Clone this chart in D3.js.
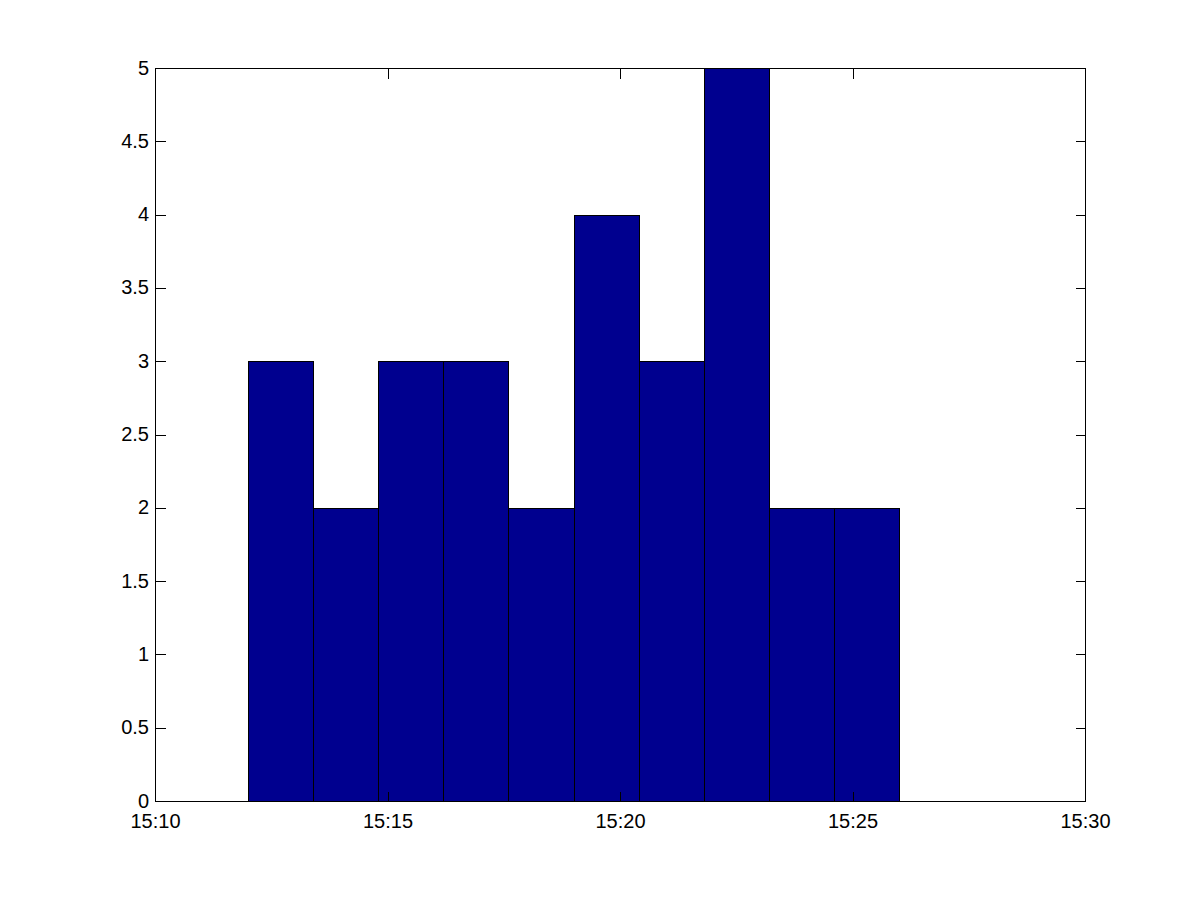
<!DOCTYPE html>
<html>
<head>
<meta charset="utf-8">
<script src="https://cdn.jsdelivr.net/npm/d3@7"></script>
<style>
  html, body { margin: 0; padding: 0; background: #fff; }
  svg text { font-family: "Liberation Sans", Arial, Helvetica, sans-serif; font-size: 20px; fill: #000; }
  svg line, svg rect { shape-rendering: crispEdges; }
</style>
</head>
<body>
<svg id="chart" width="1200" height="900"></svg>
<script>
// Histogram bin edges (time of day) and counts
const binEdges = ["15:12:00","15:13:24","15:14:48","15:16:12","15:17:36","15:19:00","15:20:24","15:21:48","15:23:12","15:24:36","15:26:00"];
const counts = [3, 2, 3, 3, 2, 4, 3, 5, 2, 2];
const xTickLabels = ["15:10", "15:15", "15:20", "15:25", "15:30"];
const yTicks = [0, 0.5, 1, 1.5, 2, 2.5, 3, 3.5, 4, 4.5, 5];

(function () {
const parse = d3.timeParse("%H:%M:%S");
const parseHM = d3.timeParse("%H:%M");

const pL = 155.5, pR = 1085.5, pT = 68.5, pB = 801.5;
const svg = d3.select("#chart");

const x = d3.scaleTime()
  .domain([parseHM(xTickLabels[0]), parseHM(xTickLabels[xTickLabels.length - 1])])
  .range([pL, pR]);
const y = d3.scaleLinear().domain([0, 5]).range([pB, pT]);

const bins = counts.map((c, i) => ({ x0: parse(binEdges[i]), x1: parse(binEdges[i + 1]), c }));

svg.append("g").selectAll("rect").data(bins).join("rect")
  .attr("x", d => x(d.x0))
  .attr("width", d => x(d.x1) - x(d.x0))
  .attr("y", d => y(d.c))
  .attr("height", d => y(0) - y(d.c))
  .attr("fill", "#00008f")
  .attr("stroke", "#000")
  .attr("stroke-width", 1);

// Box
svg.append("rect")
  .attr("x", pL).attr("y", pT)
  .attr("width", pR - pL).attr("height", pB - pT)
  .attr("fill", "none").attr("stroke", "#000").attr("stroke-width", 1);

const xTicks = xTickLabels.map(parseHM);
const tickLen = 10;

const xAxisG = svg.append("g");
xAxisG.selectAll("line.b").data(xTicks).join("line")
  .attr("class", "b")
  .attr("x1", d => x(d)).attr("x2", d => x(d))
  .attr("y1", pB).attr("y2", pB - tickLen)
  .attr("stroke", "#000");
xAxisG.selectAll("line.t").data(xTicks).join("line")
  .attr("class", "t")
  .attr("x1", d => x(d)).attr("x2", d => x(d))
  .attr("y1", pT).attr("y2", pT + tickLen)
  .attr("stroke", "#000");
svg.append("g").selectAll("text").data(xTicks).join("text")
  .attr("x", d => x(d)).attr("y", 828)
  .attr("text-anchor", "middle")
  .text(d => d3.timeFormat("%H:%M")(d));

const yAxisG = svg.append("g");
yAxisG.selectAll("line.l").data(yTicks).join("line")
  .attr("class", "l")
  .attr("x1", pL).attr("x2", pL + tickLen)
  .attr("y1", d => y(d)).attr("y2", d => y(d))
  .attr("stroke", "#000");
yAxisG.selectAll("line.r").data(yTicks).join("line")
  .attr("class", "r")
  .attr("x1", pR).attr("x2", pR - tickLen)
  .attr("y1", d => y(d)).attr("y2", d => y(d))
  .attr("stroke", "#000");
svg.append("g").selectAll("text").data(yTicks).join("text")
  .attr("x", 149).attr("y", d => y(d) + 6)
  .attr("text-anchor", "end")
  .text(d => d3.format("")(d));
})();
</script>
</body>
</html>
